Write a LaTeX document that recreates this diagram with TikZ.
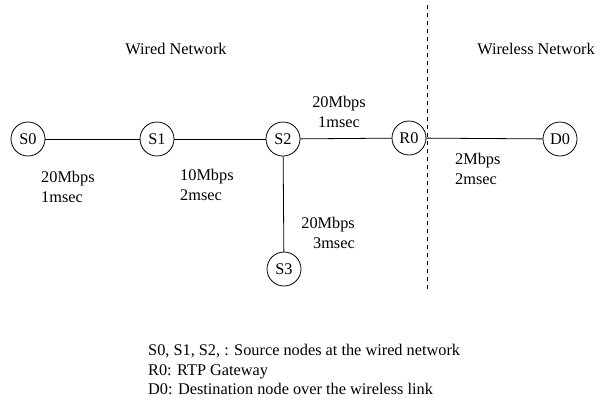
\documentclass[tikz,border=0pt]{standalone}
\usepackage{fontspec}
\setmainfont{Liberation Serif}
\begin{document}
\begin{tikzpicture}[x=1pt,y=-1pt,
  nd/.style={circle,draw,line width=0.8pt,minimum size=34pt,inner sep=0pt,font=\fontsize{16.3}{19.5}\selectfont},
  lbl/.style={anchor=north west,align=left,inner sep=0pt,font=\fontsize{16.3}{19.5}\selectfont},
  link/.style={line width=0.8pt}]
\useasboundingbox (0,0) rectangle (602,408);
\node[nd] (S0) at (28,139) {S0};
\node[nd] (S1) at (157,139) {S1};
\node[nd] (S2) at (283,139) {S2};
\node[nd] (S3) at (284,269) {S3};
\node[nd] (R0) at (409,138) {R0};
\node[nd] (D0) at (560,139) {D0};
\coordinate (dtop) at (427,5);
\coordinate (dbot) at (427,292);
\draw[link,dash pattern=on 4pt off 4pt] (dtop) -- (dbot);
\draw[link] (S0) -- (S1);
\draw[link] (S1) -- (S2);
\draw[link] (S2) -- (R0);
\draw[link] (S2) -- (S3);
\draw[link] (R0) -- (D0);
\node[lbl,anchor=center] (wired) at (176,49) {Wired Network};
\node[lbl,anchor=center] (wless) at (536,49) {Wireless Network};
\node[lbl] (l1) at (41,171) {20Mbps\\1msec};
\node[lbl] (l2) at (180,169) {10Mbps\\2msec};
\node[lbl,align=center,anchor=north] (l3) at (339,96) {20Mbps\\1msec};
\node[lbl,align=right,anchor=north east] (l4) at (355,217) {20Mbps\\3msec};
\node[lbl] (l5) at (455,153) {2Mbps\\2msec};
\node[lbl] (leg) at (148,344) {S0, S1, S2, : Source nodes at the wired network\\R0: RTP Gateway\\D0: Destination node over the wireless link};
\end{tikzpicture}
\end{document}
